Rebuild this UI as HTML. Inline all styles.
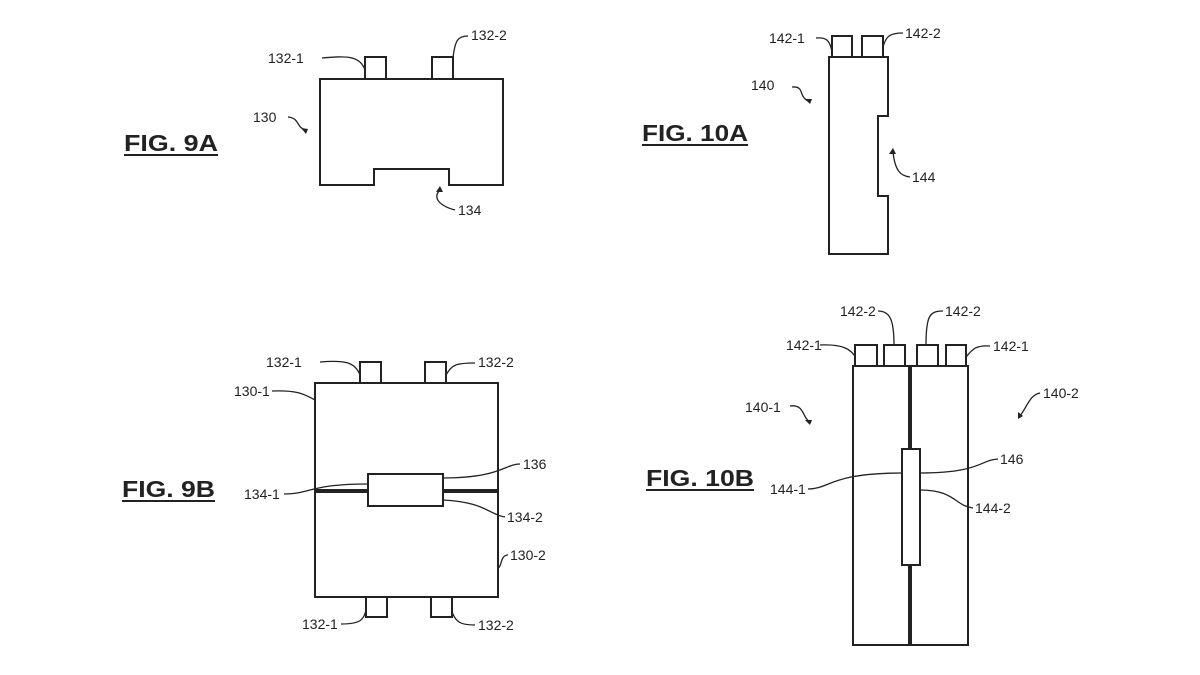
<!DOCTYPE html>
<html><head><style>body{margin:0;background:#fff}svg{display:block}</style></head><body>
<svg width="1200" height="675" viewBox="0 0 1200 675" xmlns="http://www.w3.org/2000/svg" font-family="Liberation Sans, Arial, sans-serif">
<g fill="none" stroke="#222" stroke-width="2">
<path d="M320 79 H503 V185 H449 V169 H374 V185 H320 Z"/>
<rect x="365" y="57" width="21" height="22"/><rect x="432" y="57" width="21" height="22"/>
<path d="M829 57 H888 V116 H878 V196 H888 V254 H829 Z"/>
<rect x="832" y="36" width="20" height="21"/><rect x="862" y="36" width="21" height="21"/>
<rect x="315" y="383" width="183" height="214"/>
<rect x="360" y="362" width="21" height="21"/><rect x="425" y="362" width="21" height="21"/>
<rect x="366" y="597" width="21" height="20"/><rect x="431" y="597" width="21" height="20"/>
<line x1="315" y1="491" x2="498" y2="491" stroke-width="4"/>
<rect x="368" y="474" width="75" height="32" fill="#fff"/>
<rect x="853" y="366" width="115" height="279"/>
<line x1="910" y1="366" x2="910" y2="645" stroke-width="4"/>
<rect x="855" y="345" width="22" height="21"/><rect x="884" y="345" width="21" height="21"/>
<rect x="917" y="345" width="21" height="21"/><rect x="946" y="345" width="20" height="21"/>
<rect x="902" y="449" width="18" height="116" fill="#fff"/>
</g>
<g fill="none" stroke="#222" stroke-width="1.3">
<path d="M322 58 C345 56 360 55 365 70"/><path d="M468 36 C458 36 455 40 453 58"/>
<path d="M288 117 C300 118 296 128 306 130"/><path d="M440 190 C432 198 440 206 455 210"/>
<path d="M816 38 C826 37 830 40 832 52"/><path d="M903 33 C890 33 886 36 883 47"/>
<path d="M792 87 C805 86 798 96 808 101"/><path d="M893 152 C895 170 900 176 910 177"/>
<path d="M320 362 C345 360 355 362 360 375"/><path d="M475 363 C455 363 452 365 446 375"/>
<path d="M272 391 C300 390 305 395 315 400"/><path d="M520 464 C505 464 500 478 443 478"/>
<path d="M284 494 C310 494 310 484 368 484"/><path d="M505 517 C490 515 485 502 443 500"/>
<path d="M508 555 C500 555 502 567 498 568"/><path d="M341 624 C360 624 364 620 366 610"/><path d="M475 625 C460 625 456 622 452 612"/>
<path d="M820 345 C845 344 850 350 855 356"/><path d="M878 311 C890 311 894 320 894 345"/>
<path d="M943 311 C930 311 926 315 926 345"/><path d="M990 346 C975 345 972 350 966 357"/>
<path d="M790 406 C805 404 802 418 810 422"/><path d="M1040 393 C1030 395 1028 405 1020 416"/>
<path d="M998 459 C980 460 980 473 920 473"/><path d="M808 489 C830 489 830 473 902 473"/>
<path d="M973 508 C955 506 955 490 920 490"/>
</g>
<g fill="#222">
<path d="M306 134 l-5 -6 l7 1z"/><path d="M440 186 l-4 6 l7 0z"/>
<path d="M810 104 l-5 -5 l7 0z"/><path d="M893 148 l-4 6 l7 0z"/>
<path d="M810 425 l-5 -5 l7 0z"/><path d="M1018 419 l0 -7 l5 4z"/>
</g>
<g font-size="14" fill="#222">
<text x="268" y="63">132-1</text><text x="471" y="40">132-2</text>
<text x="253" y="122">130</text><text x="458" y="215">134</text>
<text x="769" y="43">142-1</text><text x="905" y="38">142-2</text>
<text x="751" y="90">140</text><text x="912" y="182">144</text>
<text x="266" y="367">132-1</text><text x="478" y="367">132-2</text>
<text x="234" y="396">130-1</text><text x="523" y="469">136</text>
<text x="244" y="499">134-1</text><text x="507" y="522">134-2</text>
<text x="510" y="560">130-2</text>
<text x="302" y="629">132-1</text><text x="478" y="630">132-2</text>
<text x="786" y="350">142-1</text><text x="840" y="316">142-2</text>
<text x="945" y="316">142-2</text><text x="993" y="351">142-1</text>
<text x="745" y="412">140-1</text><text x="1043" y="398">140-2</text>
<text x="1000" y="464">146</text><text x="770" y="494">144-1</text><text x="975" y="513">144-2</text>
</g>
<g font-size="23" font-weight="bold" fill="#222">
<text x="124" y="151" textLength="94" lengthAdjust="spacingAndGlyphs">FIG. 9A</text><text x="642" y="141" textLength="106" lengthAdjust="spacingAndGlyphs">FIG. 10A</text>
<text x="122" y="497" textLength="93" lengthAdjust="spacingAndGlyphs">FIG. 9B</text><text x="646" y="486" textLength="108" lengthAdjust="spacingAndGlyphs">FIG. 10B</text>
</g>
<g stroke="#222" stroke-width="2">
<line x1="124" y1="155" x2="218" y2="155"/><line x1="642" y1="145" x2="748" y2="145"/>
<line x1="122" y1="501" x2="215" y2="501"/><line x1="646" y1="490" x2="754" y2="490"/>
</g>
</svg>
</body></html>
